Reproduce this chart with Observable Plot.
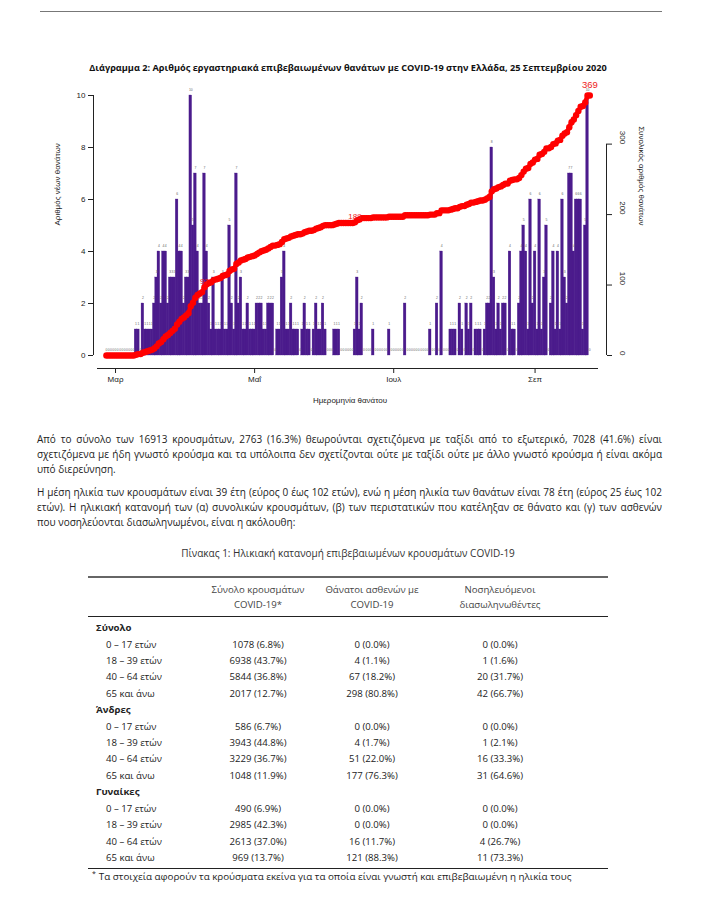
<!DOCTYPE html>
<html><head><meta charset="utf-8">
<script src="https://cdn.jsdelivr.net/npm/d3@7"></script>
<script src="https://cdn.jsdelivr.net/npm/@observablehq/plot@0.6"></script>
<style>
html,body{margin:0;padding:0;background:#fff}
body{width:711px;height:907px;position:relative;overflow:hidden;font-family:"Open Sans","Noto Sans",sans-serif;color:#222}
.abs{position:absolute}
#toprule{top:11px;left:40px;width:622px;border-top:1.5px solid #777}
#ctitle{top:61px;left:0;width:696px;text-align:center;font-weight:bold;font-size:9.2px;color:#111;white-space:nowrap}
#chart{top:80px;left:0}
.ln{position:absolute;left:37px;width:625px;font-size:10px;line-height:15px;white-space:nowrap;text-align:justify;text-align-last:justify}
.ln.last{text-align-last:left}
#tcap{top:546px;left:0;width:696px;text-align:center;font-size:10px;color:#333}
#tbl{top:576px;left:88px;width:520px;border-collapse:collapse;font-size:9.6px;table-layout:fixed}
#tbl td,#tbl th{padding:0;font-weight:normal}
#tbl thead th{color:#444;line-height:15px;height:38px;vertical-align:middle;text-align:center}
#tbl thead tr{border-top:2px solid #666;border-bottom:1px solid #222}
#tbl tbody tr.g td{height:17px;font-weight:bold;padding-left:8px}
#tbl tbody tr.a td{height:16.3px}
#tbl tbody tr.a td.lab{padding-left:18px}
#tbl tbody td.v{text-align:center}
#tbl tbody tr.first td{padding-top:2px}
#tbl tbody tr.end td{padding-bottom:2px}
#tbl tbody{border-bottom:1.5px solid #222}
#foot{top:869px;left:92px;font-size:9.8px;white-space:nowrap}
#foot sup{font-size:7px;margin-right:3px}
</style></head>
<body>
<div id="toprule" class="abs"></div>
<div id="ctitle" class="abs">Διάγραμμα 2: Αριθμός εργαστηριακά επιβεβαιωμένων θανάτων με COVID-19 στην Ελλάδα, 25 Σεπτεμβρίου 2020</div>
<div id="chart" class="abs"></div>

<div class="ln" style="top:432px">Από το σύνολο των 16913 κρουσμάτων, 2763 (16.3%) θεωρούνται σχετιζόμενα με ταξίδι από το εξωτερικό, 7028 (41.6%) είναι</div>
<div class="ln" style="top:447px">σχετιζόμενα με ήδη γνωστό κρούσμα και τα υπόλοιπα δεν σχετίζονται ούτε με ταξίδι ούτε με άλλο γνωστό κρούσμα ή είναι ακόμα</div>
<div class="ln last" style="top:462px">υπό διερεύνηση.</div>
<div class="ln" style="top:485px">Η μέση ηλικία των κρουσμάτων είναι 39 έτη (εύρος 0 έως 102 ετών), ενώ η μέση ηλικία των θανάτων είναι 78 έτη (εύρος 25 έως 102</div>
<div class="ln" style="top:500px">ετών). Η ηλικιακή κατανομή των (α) συνολικών κρουσμάτων, (β) των περιστατικών που κατέληξαν σε θάνατο και (γ) των ασθενών</div>
<div class="ln last" style="top:515px">που νοσηλεύονται διασωληνωμένοι, είναι η ακόλουθη:</div>

<div id="tcap" class="abs">Πίνακας 1: Ηλικιακή κατανομή επιβεβαιωμένων κρουσμάτων COVID-19</div>
<table id="tbl" class="abs">
<colgroup><col style="width:112px"><col style="width:116px"><col style="width:112px"><col style="width:144px"><col style="width:36px"></colgroup>
<thead></thead><tbody></tbody>
</table>
<div id="foot" class="abs"><sup>*</sup>Τα στοιχεία αφορούν τα κρούσματα εκείνα για τα οποία είναι γνωστή και επιβεβαιωμένη η ηλικία τους</div>

<script>
// ---------- chart data ----------
const startDate = "2020-02-26";
const dailyDeaths = [
  0,0,0,0,0,0,0,0,0,0,0,0,0,
  1,1,0,2,1,1,1,1,2,3,4,2,4,4,2,3,3,3,6,4,4,2,3,3,10,5,7,4,2,2,7,
  4,2,1,3,1,1,1,3,1,1,5,2,1,7,2,3,1,1,2,1,1,1,2,2,2,1,1,2,2,2,0,1,1,3,4,
  1,1,2,1,1,1,0,1,2,1,1,0,1,2,1,1,2,1,0,0,0,1,1,1,0,0,0,0,0,0,
  1,3,1,2,0,0,0,0,1,0,0,0,0,0,0,1,0,0,0,0,0,0,2,0,0,0,0,0,0,0,0,0,0,1,0,0,2,0,4,0,0,0,
  1,1,1,0,2,1,0,2,1,2,0,1,1,1,0,1,2,2,
  8,3,1,2,1,2,2,0,4,1,1,0,2,4,5,4,1,6,2,4,1,6,1,3,5,0,2,4,1,4,1,6,3,2,7,7,4,6,6,6,1,5,10,0
];
const monthTicks = ["2020-03-01","2020-05-01","2020-07-01","2020-09-01"];
const monthLabels = ["Μαρ","Μαΐ","Ιουλ","Σεπ"];
const leftTicks = [0,2,4,6,8,10];
const rightTicks = [0,100,200,300];
const annotatedDays = [43,109];
const yTitle = "Αριθμός νέων θανάτων";
const y2Title = "Συνολικός αριθμός θανάτων";
const xTitle = "Ημερομηνία θανάτου";

// ---------- table data ----------
const tableHeaders = [["Σύνολο κρουσμάτων","COVID-19*"],["Θάνατοι ασθενών με","COVID-19"],["Νοσηλευόμενοι","διασωληνωθέντες"]];
const groupNames = ["Σύνολο","Άνδρες","Γυναίκες"];
const ageBands = ["0 – 17 ετών","18 – 39 ετών","40 – 64 ετών","65 και άνω"];
const casesCol = [["1078 (6.8%)","6938 (43.7%)","5844 (36.8%)","2017 (12.7%)"],
                  ["586 (6.7%)","3943 (44.8%)","3229 (36.7%)","1048 (11.9%)"],
                  ["490 (6.9%)","2985 (42.3%)","2613 (37.0%)","969 (13.7%)"]];
const deathsCol = [["0 (0.0%)","4 (1.1%)","67 (18.2%)","298 (80.8%)"],
                   ["0 (0.0%)","4 (1.7%)","51 (22.0%)","177 (76.3%)"],
                   ["0 (0.0%)","0 (0.0%)","16 (11.7%)","121 (88.3%)"]];
const intubCol = [["0 (0.0%)","1 (1.6%)","20 (31.7%)","42 (66.7%)"],
                  ["0 (0.0%)","1 (2.1%)","16 (33.3%)","31 (64.6%)"],
                  ["0 (0.0%)","0 (0.0%)","4 (26.7%)","11 (73.3%)"]];

// ---------- build chart ----------
const t0 = new Date(startDate + "T00:00:00Z");
const cum = d3.cumsum(dailyDeaths);
const days = dailyDeaths.map((v, i) => ({
  i, date: d3.utcDay.offset(t0, i), deaths: v, cum: cum[i]
}));
const total = cum[cum.length - 1];
const yMax = d3.max(leftTicks);
const k = yMax / total;             // secondary axis: total aligned with left max
const yMid = yMax / 2;
const tickDates = monthTicks.map(s => new Date(s + "T00:00:00Z"));
const lastDay = days[days.length - 1];
const lastDate = lastDay.date;
const ann = annotatedDays.map(i => days[i]);

const chart = Plot.plot({
  width: 711, height: 340,
  marginLeft: 93, marginRight: 105, marginTop: 15, marginBottom: 52,
  x: {type: "utc", domain: [t0, lastDate], range: [105.9, 589.3]},
  y: {domain: [0, yMax], range: [275, 15]},
  style: {fontFamily: "'Liberation Sans', Arial, sans-serif", fontSize: "8px", color: "#222", background: "transparent", overflow: "visible"},
  marks: [
    Plot.rectY(days, {
      x1: d => d3.utcHour.offset(d.date, -14),
      x2: d => d3.utcHour.offset(d.date, 14),
      y: "deaths", fill: "#4b1b8c", stroke: "#4b1b8c", strokeWidth: 0.3
    }),
    Plot.text(days, {x: "date", y: "deaths", text: d => String(d.deaths), dy: -6, fontSize: 3.4, fill: "#666"}),
    Plot.line(days, {x: "date", y: d => d.cum * k, stroke: "#ff0000", strokeWidth: 4.5}),
    Plot.dot(days, {x: "date", y: d => d.cum * k, r: 3.2, fill: "#ff0000", stroke: "none"}),
    Plot.text(ann, {x: "date", y: d => d.cum * k, text: d => String(d.cum), dy: -6, fontSize: 8, fill: "#ee1a1a"}),
    Plot.text([lastDay], {x: "date", y: d => d.cum * k, text: d => String(d.cum), dy: -11, fontSize: 9.5, fill: "#ee1a1a"}),
    // left axis
    Plot.axisY({anchor: "left", ticks: leftTicks, tickSize: 5, tickPadding: 3, label: null}),
    Plot.ruleX([t0], {y1: 0, y2: yMax, dx: -12.9, stroke: "#222"}),
    Plot.text([yTitle], {frameAnchor: "left", y: () => yMid, rotate: -90, dx: -36, fontSize: 8}),
    // right axis
    Plot.axisY({anchor: "right", ticks: rightTicks.map(t => t * k), tickFormat: () => "", tickSize: 5, label: null}),
    Plot.ruleX([lastDate], {y1: 0, y2: d3.max(rightTicks) * k, dx: 16.7, stroke: "#222"}),
    Plot.text(rightTicks, {frameAnchor: "right", y: t => t * k, text: t => String(t), rotate: 90, dx: 16, fontSize: 8}),
    Plot.text([y2Title], {frameAnchor: "right", y: () => yMid, rotate: 90, dx: 35, fontSize: 8}),
    // x axis
    Plot.axisX({ticks: tickDates, tickFormat: d => monthLabels[tickDates.findIndex(t => +t === +d)], tickSize: 5, tickPadding: 3, label: null}),
    Plot.frame({anchor: "bottom", insetLeft: 4, insetRight: 9, stroke: "#222"}),
    Plot.text([xTitle], {frameAnchor: "bottom", dy: 34, fontSize: 8})
  ]
});
document.getElementById("chart").appendChild(chart);

// ---------- build table ----------
const thead = document.querySelector("#tbl thead");
const htr = document.createElement("tr");
htr.appendChild(document.createElement("th"));
tableHeaders.forEach(h => {
  const th = document.createElement("th");
  th.innerHTML = h.join("<br>");
  htr.appendChild(th);
});
htr.appendChild(document.createElement("th"));
thead.appendChild(htr);

const tbody = document.querySelector("#tbl tbody");
groupNames.forEach((g, gi) => {
  const gr = document.createElement("tr");
  gr.className = "g" + (gi === 0 ? " first" : "");
  const gtd = document.createElement("td");
  gtd.colSpan = 5; gtd.textContent = g;
  gr.appendChild(gtd);
  tbody.appendChild(gr);
  ageBands.forEach((a, ai) => {
    const tr = document.createElement("tr");
    tr.className = "a" + (gi === groupNames.length - 1 && ai === ageBands.length - 1 ? " end" : "");
    const cells = [a, casesCol[gi][ai], deathsCol[gi][ai], intubCol[gi][ai], ""];
    cells.forEach((c, ci) => {
      const td = document.createElement("td");
      td.textContent = c;
      td.className = ci === 0 ? "lab" : "v";
      tr.appendChild(td);
    });
    tbody.appendChild(tr);
  });
});
</script>
</body></html>
